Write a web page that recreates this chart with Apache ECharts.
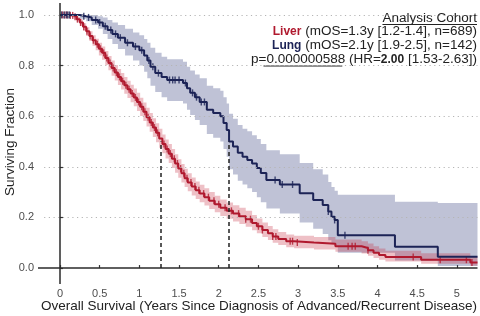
<!DOCTYPE html>
<html>
<head>
<meta charset="utf-8">
<script src="https://cdn.jsdelivr.net/npm/echarts@6/dist/echarts.min.js"></script>
<style>
html, body { margin: 0; padding: 0; background: #fff; }
#chart { width: 480px; height: 316px; }
</style>
</head>
<body>
<div id="chart"></div>
<script>
// 坐标轴刻度
const xTicks = [0, 0.5, 1, 1.5, 2, 2.5, 3, 3.5, 4, 4.5, 5];
const xTickLabels = ['0', '0.5', '1', '1.5', '2', '2.5', '3', '3.5', '4', '4.5', '5'];
const yTicks = [0, 0.2, 0.4, 0.6, 0.8, 1.0];
const yTickLabels = ['0.0', '0.2', '0.4', '0.6', '0.8', '1.0'];
const gridValues = [0.2, 0.4, 0.6, 0.8, 1.0];
const xTitle = 'Overall Survival (Years Since Diagnosis of Advanced/Recurrent Disease)';
const yTitle = 'Surviving Fraction';

// Liver 生存曲线 (KM) 及 95% 置信区间
const liverTime = [0, 0.12, 0.17, 0.21, 0.25, 0.29, 0.33, 0.37, 0.41, 0.45, 0.49, 0.53, 0.57, 0.61, 0.65, 0.69,
  0.73, 0.77, 0.81, 0.85, 0.89, 0.93, 0.97, 1.01, 1.05, 1.09, 1.13, 1.17, 1.21, 1.25, 1.29, 1.33, 1.37, 1.41,
  1.45, 1.49, 1.53, 1.57, 1.61, 1.66, 1.71, 1.76, 1.82, 1.88, 1.95, 2.02, 2.1, 2.18, 2.26, 2.34, 2.42, 2.48,
  2.55, 2.62, 2.68, 2.75, 2.85, 2.95, 3.2, 3.47, 3.8, 3.88, 3.95, 4.02, 4.1, 4.55, 5.17, 5.26];
const liverSurv = [1.0, 0.998, 0.993, 0.983, 0.97, 0.953, 0.935, 0.917, 0.9, 0.884, 0.866, 0.85, 0.83, 0.81, 0.79, 0.772,
  0.755, 0.738, 0.722, 0.706, 0.69, 0.674, 0.656, 0.637, 0.617, 0.596, 0.575, 0.555, 0.534, 0.512, 0.49, 0.47, 0.452, 0.432,
  0.413, 0.393, 0.374, 0.355, 0.338, 0.322, 0.307, 0.294, 0.28, 0.266, 0.252, 0.238, 0.226, 0.215, 0.205, 0.193, 0.178, 0.165,
  0.15, 0.137, 0.125, 0.115, 0.106, 0.101, 0.096, 0.086, 0.079, 0.07, 0.06, 0.052, 0.044, 0.033, 0.022, 0.022];
const liverLo = [1.0, 0.994, 0.986, 0.973, 0.957, 0.937, 0.917, 0.897, 0.878, 0.86, 0.84, 0.823, 0.802, 0.781, 0.76, 0.741,
  0.723, 0.705, 0.689, 0.672, 0.655, 0.639, 0.62, 0.601, 0.581, 0.559, 0.538, 0.518, 0.497, 0.475, 0.453, 0.433, 0.415, 0.395,
  0.376, 0.357, 0.338, 0.32, 0.303, 0.287, 0.273, 0.26, 0.247, 0.233, 0.22, 0.206, 0.195, 0.184, 0.174, 0.163, 0.149, 0.137,
  0.123, 0.111, 0.1, 0.091, 0.082, 0.078, 0.073, 0.064, 0.057, 0.049, 0.04, 0.033, 0.026, 0.017, 0.009, 0.009];
const liverHi = [1.0, 1.0, 0.999, 0.992, 0.982, 0.967, 0.951, 0.935, 0.92, 0.906, 0.89, 0.875, 0.857, 0.838, 0.82, 0.802,
  0.786, 0.77, 0.755, 0.74, 0.724, 0.709, 0.692, 0.673, 0.654, 0.633, 0.612, 0.592, 0.572, 0.55, 0.528, 0.508, 0.49, 0.47,
  0.45, 0.43, 0.411, 0.392, 0.374, 0.358, 0.342, 0.329, 0.315, 0.3, 0.286, 0.271, 0.259, 0.248, 0.238, 0.226, 0.21, 0.196,
  0.18, 0.166, 0.153, 0.142, 0.133, 0.128, 0.123, 0.113, 0.106, 0.097, 0.086, 0.077, 0.068, 0.058, 0.048, 0.048];
const liverCensor = [0.03, 0.06, 0.09, 0.13, 0.16, 0.19, 0.22, 0.26, 0.3, 0.34, 0.38, 0.42, 0.47, 0.51, 0.55, 0.59,
  0.63, 0.67, 0.71, 0.75, 0.79, 0.83, 0.87, 0.91, 0.95, 0.99, 1.03, 1.07, 1.11, 1.15, 1.19, 1.23, 1.31, 1.35, 1.39,
  1.44, 1.48, 1.52, 1.56, 1.6, 1.65, 1.7, 1.75, 1.81, 1.87, 1.94, 2.0, 2.08, 2.16, 2.25, 2.34, 2.4, 2.5, 2.55, 2.68,
  2.72, 2.9, 2.93, 2.99, 3.63, 3.68, 3.72, 3.88, 4.45, 4.79, 5.12, 5.19];

// Lung 生存曲线 (KM) 及 95% 置信区间
const lungTime = [0, 0.25, 0.33, 0.4, 0.48, 0.54, 0.6, 0.66, 0.73, 0.82, 0.92, 1.0, 1.06, 1.1, 1.14, 1.2, 1.28,
  1.35, 1.55, 1.6, 1.64, 1.7, 1.76, 1.85, 1.93, 2.02, 2.06, 2.1, 2.13, 2.18, 2.24, 2.3, 2.36, 2.42, 2.48, 2.53,
  2.6, 2.77, 3.02, 3.19, 3.31, 3.38, 3.42, 3.46, 3.5, 4.22, 4.76, 5.26];
const lungSurv = [1.0, 0.995, 0.99, 0.98, 0.97, 0.955, 0.94, 0.925, 0.91, 0.89, 0.875, 0.86, 0.84, 0.82, 0.795, 0.77, 0.755,
  0.743, 0.731, 0.71, 0.692, 0.675, 0.656, 0.625, 0.612, 0.6, 0.573, 0.545, 0.5, 0.48, 0.455, 0.44, 0.427, 0.413, 0.395, 0.375,
  0.348, 0.33, 0.295, 0.269, 0.249, 0.223, 0.203, 0.19, 0.13, 0.084, 0.045, 0.045];
const lungLo = [1.0, 0.985, 0.975, 0.96, 0.945, 0.925, 0.905, 0.885, 0.865, 0.84, 0.82, 0.8, 0.775, 0.75, 0.72, 0.695, 0.675,
  0.66, 0.65, 0.625, 0.605, 0.585, 0.565, 0.53, 0.515, 0.5, 0.47, 0.44, 0.39, 0.37, 0.345, 0.33, 0.315, 0.3, 0.28, 0.26,
  0.235, 0.215, 0.18, 0.155, 0.135, 0.11, 0.095, 0.085, 0.06, 0.03, 0.008, 0.008];
const lungHi = [1.0, 1.0, 1.0, 1.0, 0.995, 0.99, 0.98, 0.97, 0.96, 0.945, 0.93, 0.92, 0.905, 0.89, 0.87, 0.85, 0.835,
  0.825, 0.815, 0.795, 0.78, 0.765, 0.75, 0.72, 0.71, 0.7, 0.675, 0.65, 0.61, 0.59, 0.565, 0.55, 0.54, 0.525, 0.51, 0.49,
  0.465, 0.45, 0.415, 0.39, 0.37, 0.34, 0.32, 0.305, 0.29, 0.262, 0.257, 0.257];
const lungCensor = [0.02, 0.05, 0.08, 0.1, 0.12, 0.3, 0.36, 0.45, 0.5, 0.57, 0.64, 0.7, 0.76, 0.85, 0.95, 1.03, 1.12,
  1.17, 1.24, 1.38, 1.42, 1.45, 1.5, 1.58, 1.67, 1.72, 1.78, 1.82, 2.71, 2.8, 2.93, 3.38, 3.46, 3.59];

// 中位生存时间
const medianTimes = [1.27, 2.12];

const FONT = "'Liberation Sans', Arial, sans-serif";
const liverColor = '#b0192e';
const lungColor = '#1c2356';

// 阶梯函数取值（删失点落在曲线上）
function survAt(times, surv, t) {
    let v = surv[0];
    for (let i = 0; i < times.length; i++) {
        if (times[i] <= t) v = surv[i];
    }
    return v;
}

function zip(a, b) {
    return a.map((v, i) => [v, b[i]]);
}

// 置信带：阶梯多边形
function bandSeries(name, times, lo, hi, fill) {
    return {
        name: name,
        type: 'custom',
        silent: true,
        data: [[0, 0]],
        renderItem: function (params, api) {
            const top = [];
            const bottom = [];
            for (let i = 0; i < times.length; i++) {
                const next = i < times.length - 1 ? times[i + 1] : times[i];
                top.push(api.coord([times[i], hi[i]]), api.coord([next, hi[i]]));
                bottom.push(api.coord([times[i], lo[i]]), api.coord([next, lo[i]]));
            }
            return {
                type: 'polygon',
                shape: { points: top.concat(bottom.reverse()) },
                style: { fill: fill }
            };
        }
    };
}

// 文字宽度（用于下划线）
const ctx = document.createElement('canvas').getContext('2d');
function textW(str, bold) {
    ctx.font = (bold ? 'bold ' : '') + '13.5px ' + FONT;
    return ctx.measureText(str).width;
}

const chart = echarts.init(document.getElementById('chart'));

const rightX = 477;
const pParts = ['p=', '0.000000588', ' (HR=', '2.00', ' [1.53-2.63])'];
const pTotal = textW(pParts[0]) + textW(pParts[1]) + textW(pParts[2]) + textW(pParts[3], true) + textW(pParts[4]);
const pStart = rightX - pTotal + textW(pParts[0]);
const headW = textW('Analysis Cohort');

const txtBase = { fill: '#222', font: '13.5px ' + FONT, align: 'right', verticalAlign: 'middle' };

const option = {
    animation: false,
    backgroundColor: '#fff',
    grid: { left: 38, right: 2.5, top: 3, bottom: 32, containLabel: false, outerBoundsMode: 'none' },
    xAxis: {
        type: 'value',
        min: -0.277,
        max: 5.26,
        axisLine: { show: false },
        axisTick: { show: true, inside: true, length: 3, customValues: xTicks, lineStyle: { color: '#333', width: 1.2 } },
        axisLabel: {
            customValues: xTicks,
            margin: 4,
            fontFamily: FONT,
            fontSize: 11,
            color: '#4d4d4d',
            formatter: v => xTickLabels[xTicks.indexOf(v)]
        },
        splitLine: { show: false }
    },
    yAxis: {
        type: 'value',
        min: -0.063,
        max: 1.047,
        axisLine: { show: false },
        axisTick: { show: true, inside: true, length: 3, customValues: yTicks, lineStyle: { color: '#333', width: 1.2 } },
        axisLabel: {
            customValues: yTicks,
            margin: 4,
            fontFamily: FONT,
            fontSize: 11,
            color: '#4d4d4d',
            formatter: v => yTickLabels[yTicks.indexOf(v)]
        },
        splitLine: { show: false }
    },
    graphic: [
        // 坐标轴标题
        { type: 'text', x: 259, y: 306, style: { text: xTitle, fill: '#222', font: '13.5px ' + FONT, align: 'center', verticalAlign: 'middle' } },
        { type: 'text', x: 10, y: 142, rotation: Math.PI / 2, style: { text: yTitle, fill: '#222', font: '13.5px ' + FONT, align: 'center', verticalAlign: 'middle' } },
        // 图例文字
        { type: 'text', x: rightX, y: 18, style: Object.assign({}, txtBase, { text: 'Analysis Cohort' }) },
        { type: 'line', shape: { x1: rightX - headW, y1: 24.5, x2: rightX, y2: 24.5 }, style: { stroke: '#222', lineWidth: 1 } },
        {
            type: 'text', x: rightX, y: 31.5,
            style: Object.assign({}, txtBase, {
                text: '{l|Liver} (mOS=1.3y [1.2-1.4], n=689)',
                rich: { l: { fill: liverColor, fontWeight: 'bold', font: 'bold 13.5px ' + FONT } }
            })
        },
        {
            type: 'text', x: rightX, y: 45.5,
            style: Object.assign({}, txtBase, {
                text: '{l|Lung} (mOS=2.1y [1.9-2.5], n=142)',
                rich: { l: { fill: lungColor, fontWeight: 'bold', font: 'bold 13.5px ' + FONT } }
            })
        },
        {
            type: 'text', x: rightX, y: 59.5,
            style: Object.assign({}, txtBase, {
                text: pParts[0] + pParts[1] + pParts[2] + '{b|' + pParts[3] + '}' + pParts[4],
                rich: { b: { fontWeight: 'bold', font: 'bold 13.5px ' + FONT } }
            })
        },
        { type: 'line', shape: { x1: pStart, y1: 66, x2: pStart + textW(pParts[1]), y2: 66 }, style: { stroke: '#222', lineWidth: 1 } }
    ],
    series: [
        bandSeries('Lung CI', lungTime, lungLo, lungHi, 'rgba(44, 54, 118, 0.3)'),
        bandSeries('Liver CI', liverTime, liverLo, liverHi, 'rgba(200, 45, 65, 0.3)'),
        {
            name: 'axes',
            type: 'line',
            data: [],
            silent: true,
            markLine: {
                silent: true,
                symbol: 'none',
                label: { show: false },
                data: gridValues.map(v => [
                    { coord: [-0.2, v], lineStyle: { color: '#b5b5b5', width: 1, type: [1.2, 3.5] } },
                    { coord: [5.26, v] }
                ]).concat([
                    { yAxis: 0, lineStyle: { color: '#2a2a2a', width: 1.5, type: 'solid' } },
                    { xAxis: 0, lineStyle: { color: '#2a2a2a', width: 1.5, type: 'solid' } }
                ])
            }
        },
        {
            name: 'Liver',
            type: 'line',
            step: 'end',
            showSymbol: false,
            data: zip(liverTime, liverSurv),
            lineStyle: { color: liverColor, width: 2 },
            z: 3
        },
        {
            name: 'Lung',
            type: 'line',
            step: 'end',
            showSymbol: false,
            data: zip(lungTime, lungSurv),
            lineStyle: { color: lungColor, width: 2 },
            z: 4,
            markLine: {
                silent: true,
                symbol: 'none',
                label: { show: false },
                lineStyle: { color: '#222', width: 1.5, type: [4, 3] },
                data: medianTimes.map(t => [{ coord: [t, 0] }, { coord: [t, 0.5] }])
            }
        },
        {
            name: 'Liver censor',
            type: 'scatter',
            symbol: 'rect',
            symbolSize: [1.4, 7],
            itemStyle: { color: liverColor },
            data: liverCensor.map(t => [t, survAt(liverTime, liverSurv, t)]),
            z: 3
        },
        {
            name: 'Lung censor',
            type: 'scatter',
            symbol: 'rect',
            symbolSize: [1.4, 7],
            itemStyle: { color: lungColor },
            data: lungCensor.map(t => [t, survAt(lungTime, lungSurv, t)]),
            z: 4
        }
    ]
};

chart.setOption(option);
</script>
</body>
</html>
